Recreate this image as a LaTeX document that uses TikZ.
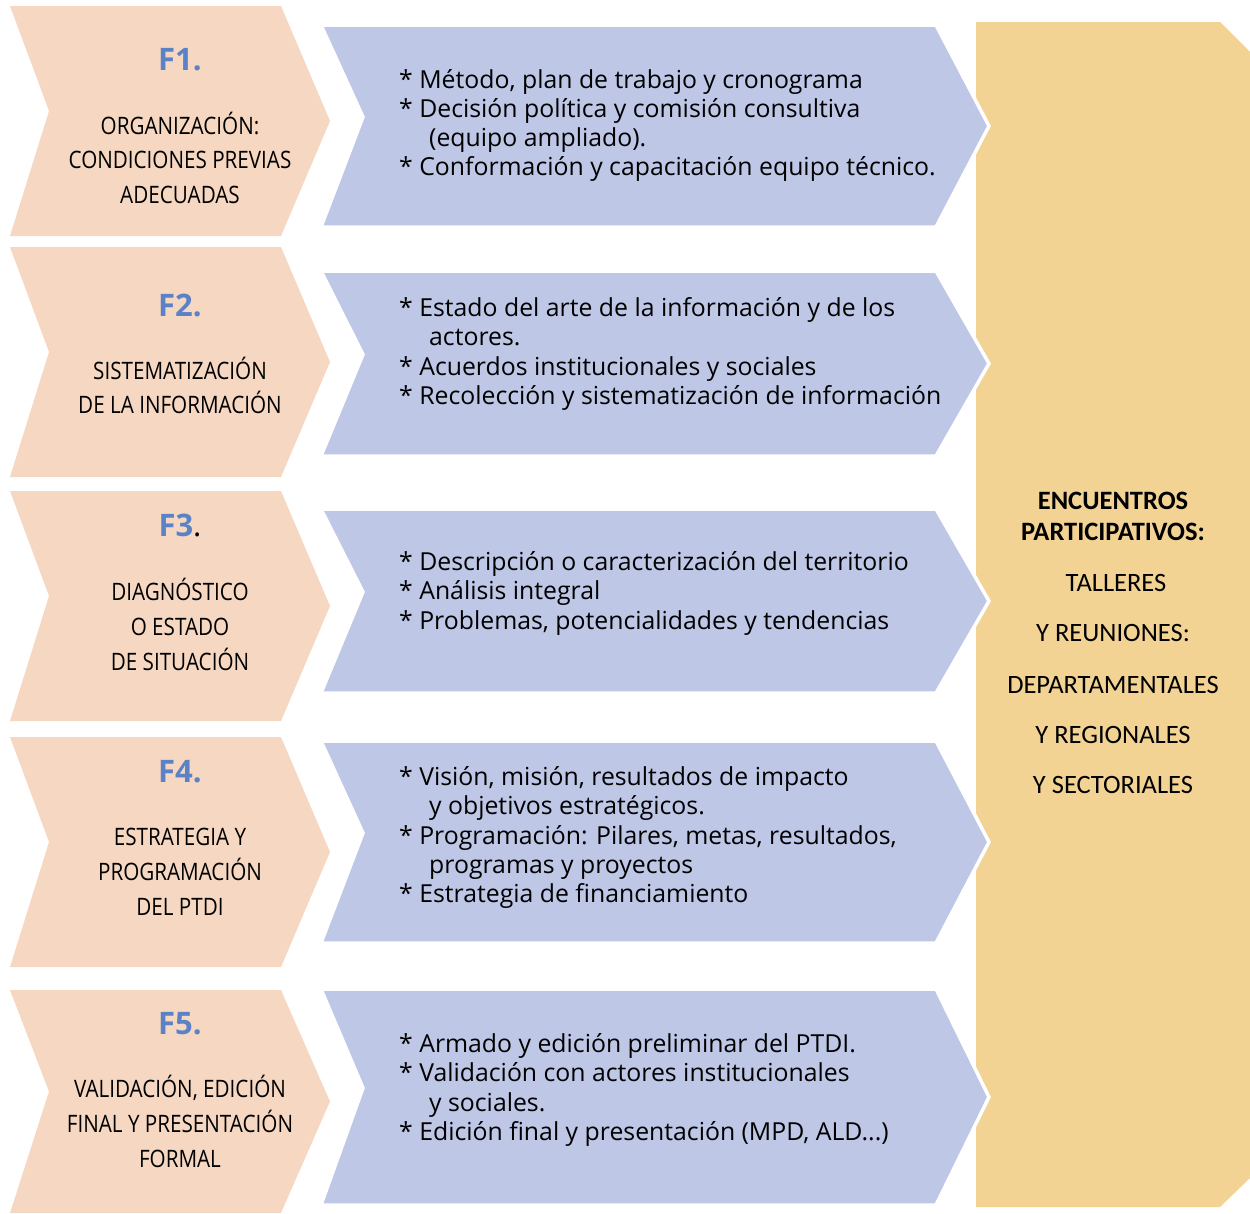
\documentclass[tikz,border=0pt]{standalone}
\usepackage{fontspec}
\setmainfont{Open Sans}
\newfontfamily\condfont[FakeStretch=0.86]{Open Sans}
\newfontfamily\calfont{Carlito}
\definecolor{peach}{RGB}{245,215,194}
\definecolor{lav}{RGB}{190,199,230}
\definecolor{sand}{RGB}{242,211,148}
\definecolor{fblue}{RGB}{91,130,198}
\begin{document}
\begin{tikzpicture}[x=1pt,y=-1pt,
  peachshape/.style={fill=peach},
  lavshape/.style={fill=lav,draw=white,line width=3.5pt,line join=miter},
  sandshape/.style={fill=sand},
  bt/.style={inner sep=0pt,anchor=base west,font=\fontsize{24.8}{28}\selectfont},
  lt/.style={inner sep=0pt,anchor=base,font=\condfont\fontsize{24}{28}\selectfont},
  ft/.style={inner sep=0pt,anchor=base,text=fblue,font=\bfseries\fontsize{31}{36}\selectfont},
  yt/.style={inner sep=0pt,anchor=base,font=\calfont\fontsize{26.5}{30}\selectfont},
  ytb/.style={yt,font=\calfont\bfseries\fontsize{26.5}{30}\selectfont}]
\useasboundingbox (0,0) rectangle (1250,1213);
% yellow column
\path[sandshape] (976,22) -- (1220,22) -- (1250,52) -- (1250,1178) -- (1220,1207) -- (976,1207) -- cycle;
% peach chevrons: top, bottom
\foreach \t/\b in {6/236,247/477,491/721,737/967,990/1213}{
  \pgfmathsetmacro{\m}{(\t+\b)/2}
  \path[peachshape] (10,\t) -- (281,\t) -- (330,\m) -- (281,\b) -- (10,\b) -- (49,\m-10) -- cycle;
}
% lavender chevrons
\foreach \t/\b in {25/227,271/456,509/693,741/943,989/1205}{
  \pgfmathsetmacro{\m}{(\t+\b)/2}
  \path[lavshape] (321,\t) -- (936,\t) -- (989,\m) -- (936,\b) -- (321,\b) -- (363,\m-9) -- cycle;
}
% F labels
\node[ft] (f1) at (180,70) {F1.};
\node[ft] (f2) at (180,316) {F2.};
\node[ft] (f3) at (180,536) {F3\textcolor{black}{\mdseries.}};
\node[ft] (f4) at (180,782) {F4.};
\node[ft] (f5) at (180,1034) {F5.};
% left texts
\node[lt] (l1a) at (180,134) {ORGANIZACIÓN:};
\node[lt] (l1b) at (180,168) {CONDICIONES PREVIAS};
\node[lt] (l1c) at (180,203) {ADECUADAS};
\node[lt] (l2a) at (180,379) {SISTEMATIZACIÓN};
\node[lt] (l2b) at (180,413) {DE LA INFORMACIÓN};
\node[lt] (l3a) at (180,600) {DIAGNÓSTICO};
\node[lt] (l3b) at (180,635) {O ESTADO};
\node[lt] (l3c) at (180,670) {DE SITUACIÓN};
\node[lt] (l4a) at (180,845) {ESTRATEGIA Y};
\node[lt] (l4b) at (180,880) {PROGRAMACIÓN};
\node[lt] (l4c) at (180,915) {DEL PTDI};
\node[lt] (l5a) at (180,1097) {VALIDACIÓN, EDICIÓN};
\node[lt] (l5b) at (180,1132) {FINAL Y PRESENTACIÓN};
\node[lt] (l5c) at (180,1167) {FORMAL};
% blue texts
\node[bt] (b1a) at (399,88) {* Método, plan de trabajo y cronograma};
\node[bt] (b1b) at (399,117) {* Decisión política y comisión consultiva};
\node[bt] (b1c) at (429,146) {(equipo ampliado).};
\node[bt] (b1d) at (399,175) {* Conformación y capacitación equipo técnico.};
\node[bt] (b2a) at (399,316) {* Estado del arte de la información y de los};
\node[bt] (b2b) at (429,345) {actores.};
\node[bt] (b2c) at (399,375) {* Acuerdos institucionales y sociales};
\node[bt] (b2d) at (399,404) {* Recolección y sistematización de información};
\node[bt] (b3a) at (399,570) {* Descripción o caracterización del territorio};
\node[bt] (b3b) at (399,599) {* Análisis integral};
\node[bt] (b3c) at (399,629) {* Problemas, potencialidades y tendencias};
\node[bt] (b4a) at (399,785) {* Visión, misión, resultados de impacto};
\node[bt] (b4b) at (429,814) {y objetivos estratégicos.};
\node[bt] (b4c) at (399,844) {* Programación: Pilares, metas, resultados,};
\node[bt] (b4d) at (429,873) {programas y proyectos};
\node[bt] (b4e) at (399,902) {* Estrategia de financiamiento};
\node[bt] (b5a) at (399,1052) {* Armado y edición preliminar del PTDI.};
\node[bt] (b5b) at (399,1081) {* Validación con actores institucionales};
\node[bt] (b5c) at (429,1111) {y sociales.};
\node[bt] (b5d) at (399,1140) {* Edición final y presentación (MPD, ALD...)};
% yellow texts
\node[ytb] (y1) at (1113,509) {ENCUENTROS};
\node[ytb] (y2) at (1113,540) {PARTICIPATIVOS:};
\node[yt] (y3) at (1116,591) {TALLERES};
\node[yt] (y4) at (1113,641) {Y REUNIONES:};
\node[yt] (y5) at (1113,693) {DEPARTAMENTALES};
\node[yt] (y6) at (1113,743) {Y REGIONALES};
\node[yt] (y7) at (1113,793) {Y SECTORIALES};
\end{tikzpicture}
\end{document}
